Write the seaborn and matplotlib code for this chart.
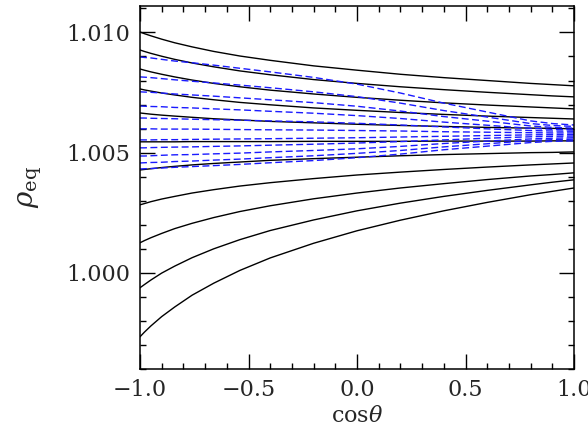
import numpy as np
import pandas as pd
import matplotlib
matplotlib.use("Agg")
import matplotlib.pyplot as plt
import seaborn as sns
from matplotlib.ticker import MultipleLocator, FuncFormatter

# sample positions along cos(theta)
cos_theta = [-1.0, -0.98, -0.95, -0.9, -0.84, -0.76, -0.66, -0.54, -0.4, -0.2, 0.0,
             0.2, 0.4, 0.6, 0.8, 0.9, 1.0]

# solid black curves (rho_eq values)
black_1 = [1.01002, 1.00995, 1.00986, 1.00972, 1.00957, 1.00940, 1.00921, 1.00902, 1.00884,
           1.00861, 1.00843, 1.00826, 1.00812, 1.00800, 1.00788, 1.00783, 1.00778]
black_2 = [1.00927, 1.00921, 1.00913, 1.00901, 1.00888, 1.00873, 1.00857, 1.00840, 1.00824,
           1.00804, 1.00788, 1.00774, 1.00762, 1.00751, 1.00741, 1.00736, 1.00732]
black_3 = [1.00848, 1.00843, 1.00836, 1.00826, 1.00815, 1.00802, 1.00788, 1.00774, 1.00760,
           1.00744, 1.00730, 1.00718, 1.00707, 1.00698, 1.00690, 1.00686, 1.00682]
black_4 = [1.00765, 1.00761, 1.00756, 1.00748, 1.00740, 1.00730, 1.00720, 1.00709, 1.00699,
           1.00686, 1.00676, 1.00667, 1.00659, 1.00652, 1.00646, 1.00643, 1.00640]
black_5 = [1.00665, 1.00663, 1.00660, 1.00656, 1.00652, 1.00647, 1.00641, 1.00636, 1.00630,
           1.00624, 1.00618, 1.00613, 1.00609, 1.00605, 1.00602, 1.00601, 1.00599]
black_6 = [1.00545, 1.00545, 1.00545, 1.00545, 1.00545, 1.00546, 1.00546, 1.00546, 1.00546,
           1.00547, 1.00547, 1.00547, 1.00548, 1.00548, 1.00548, 1.00549, 1.00549]
black_7 = [1.00428, 1.00430, 1.00433, 1.00438, 1.00443, 1.00449, 1.00455, 1.00461, 1.00468,
           1.00475, 1.00481, 1.00487, 1.00492, 1.00496, 1.00500, 1.00501, 1.00503]
black_8 = [1.00283, 1.00288, 1.00296, 1.00307, 1.00318, 1.00332, 1.00346, 1.00361, 1.00375,
           1.00392, 1.00407, 1.00419, 1.00430, 1.00440, 1.00449, 1.00453, 1.00457]
black_9 = [1.00125, 1.00134, 1.00146, 1.00164, 1.00184, 1.00206, 1.00230, 1.00255, 1.00279,
           1.00308, 1.00332, 1.00353, 1.00371, 1.00388, 1.00403, 1.00409, 1.00416]
black_10 = [0.99938, 0.99951, 0.99970, 0.99999, 1.00028, 1.00063, 1.00100, 1.00138, 1.00176,
            1.00220, 1.00258, 1.00290, 1.00318, 1.00343, 1.00366, 1.00377, 1.00387]
black_11 = [0.99734, 0.99753, 0.99779, 0.99818, 0.99858, 0.99907, 0.99957, 1.00010, 1.00062,
            1.00123, 1.00175, 1.00219, 1.00258, 1.00293, 1.00325, 1.00339, 1.00353]

# dashed blue curves
blue_1 = [1.00898, 1.00896, 1.00894, 1.00888, 1.00881, 1.00874, 1.00864, 1.00851, 1.00836,
          1.00813, 1.00785, 1.00748, 1.00706, 1.00669, 1.00632, 1.00621, 1.00615]
blue_2 = [1.00815, 1.00814, 1.00812, 1.00808, 1.00803, 1.00797, 1.00790, 1.00781, 1.00770,
          1.00753, 1.00733, 1.00706, 1.00675, 1.00648, 1.00621, 1.00613, 1.00609]
blue_3 = [1.00753, 1.00752, 1.00751, 1.00748, 1.00744, 1.00740, 1.00735, 1.00728, 1.00720,
          1.00708, 1.00693, 1.00673, 1.00650, 1.00631, 1.00611, 1.00605, 1.00602]
blue_4 = [1.00694, 1.00693, 1.00692, 1.00691, 1.00688, 1.00686, 1.00682, 1.00678, 1.00672,
          1.00664, 1.00654, 1.00642, 1.00627, 1.00614, 1.00601, 1.00597, 1.00595]
blue_5 = [1.00644, 1.00644, 1.00643, 1.00642, 1.00641, 1.00639, 1.00637, 1.00635, 1.00632,
          1.00628, 1.00622, 1.00615, 1.00607, 1.00599, 1.00592, 1.00590, 1.00589]
blue_6 = [1.00599, 1.00599, 1.00599, 1.00598, 1.00598, 1.00598, 1.00597, 1.00596, 1.00595,
          1.00594, 1.00592, 1.00590, 1.00587, 1.00585, 1.00583, 1.00582, 1.00582]
blue_7 = [1.00553, 1.00553, 1.00553, 1.00554, 1.00554, 1.00555, 1.00556, 1.00557, 1.00558,
          1.00560, 1.00562, 1.00565, 1.00568, 1.00571, 1.00574, 1.00575, 1.00575]
blue_8 = [1.00520, 1.00520, 1.00521, 1.00522, 1.00523, 1.00524, 1.00526, 1.00528, 1.00531,
          1.00535, 1.00540, 1.00546, 1.00553, 1.00560, 1.00566, 1.00568, 1.00569]
blue_9 = [1.00486, 1.00486, 1.00487, 1.00489, 1.00491, 1.00492, 1.00495, 1.00498, 1.00503,
          1.00509, 1.00516, 1.00526, 1.00538, 1.00548, 1.00557, 1.00560, 1.00562]
blue_10 = [1.00457, 1.00458, 1.00459, 1.00460, 1.00463, 1.00465, 1.00469, 1.00473, 1.00479,
           1.00487, 1.00497, 1.00509, 1.00524, 1.00537, 1.00550, 1.00554, 1.00556]
blue_11 = [1.00432, 1.00433, 1.00434, 1.00436, 1.00439, 1.00442, 1.00446, 1.00451, 1.00458,
           1.00467, 1.00479, 1.00494, 1.00512, 1.00527, 1.00542, 1.00547, 1.00549]

x_ticks = [-1.0, -0.5, 0.0, 0.5, 1.0]
y_ticks = [1.000, 1.005, 1.010]

black_curves = [black_1, black_2, black_3, black_4, black_5, black_6,
                black_7, black_8, black_9, black_10, black_11]
blue_curves = [blue_1, blue_2, blue_3, blue_4, blue_5, blue_6,
               blue_7, blue_8, blue_9, blue_10, blue_11]


def long_frame(curves):
    rows = []
    for i, c in enumerate(curves):
        for xv, yv in zip(cos_theta, c):
            rows.append({"x": xv, "rho": yv, "curve": i})
    return pd.DataFrame(rows)


df_black = long_frame(black_curves)
df_blue = long_frame(blue_curves)

sns.set_theme(style="ticks")
plt.rcParams["font.family"] = ["DejaVu Serif"]
plt.rcParams["mathtext.fontset"] = "dejavuserif"

fig = plt.figure(figsize=(5.88, 4.28), dpi=100)
ax = fig.add_axes([140 / 588, 1 - 369 / 428, (574 - 140) / 588, (369 - 6) / 428])

sns.lineplot(data=df_black, x="x", y="rho", units="curve", estimator=None,
             color="black", linewidth=1.0, legend=False, ax=ax, sort=False)
sns.lineplot(data=df_blue, x="x", y="rho", units="curve", estimator=None,
             color="#1a1aff", linewidth=1.0, linestyle=(0, (5, 2.5)),
             legend=False, ax=ax, sort=False)

ax.set_xlim(-1.0, 1.0)
ax.set_ylim(0.996, 1.0111)
ax.set_xticks(x_ticks)
ax.set_yticks(y_ticks)
ax.xaxis.set_minor_locator(MultipleLocator(0.1))
ax.yaxis.set_minor_locator(MultipleLocator(0.001))
ax.xaxis.set_major_formatter(FuncFormatter(lambda v, p: f"{v:.1f}".replace("-", "\u2212")))
ax.yaxis.set_major_formatter(FuncFormatter(lambda v, p: f"{v:.3f}"))
ax.tick_params(which="both", direction="in", top=True, right=True,
               color="black", width=1.0)
ax.tick_params(which="major", length=11, labelsize=16, pad=7)
ax.tick_params(which="minor", length=4.5)
for s in ax.spines.values():
    s.set_linewidth(1.1)
    s.set_color("black")

ax.set_xlabel(r"cos$\theta$", fontsize=16, labelpad=3)
ax.set_ylabel(r"$\rho_{\rm eq}$", fontsize=20, labelpad=16)

fig.savefig("out.png", dpi=100)
